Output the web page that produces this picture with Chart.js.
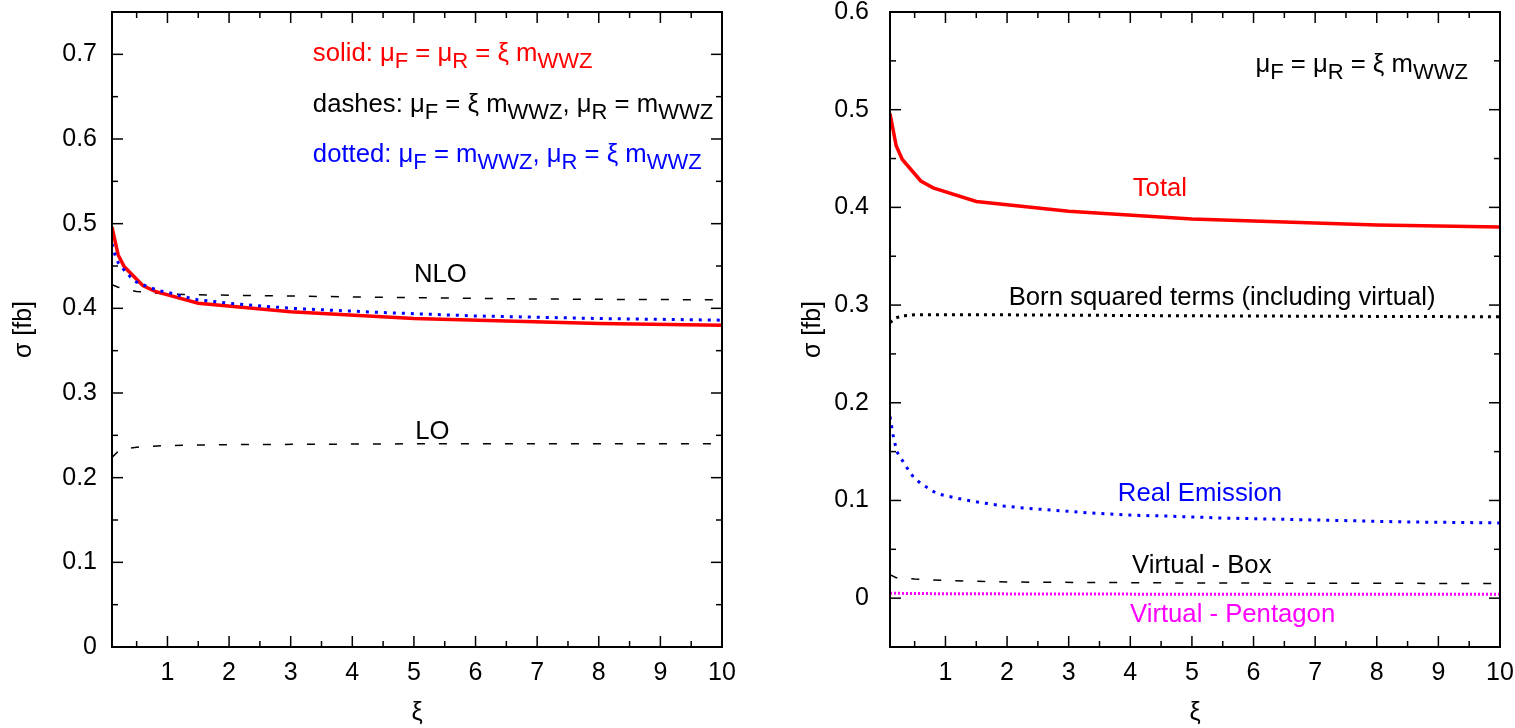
<!DOCTYPE html>
<html>
<head>
<meta charset="utf-8">
<script src="https://cdn.jsdelivr.net/npm/chart.js@4.4.0/dist/chart.umd.min.js"></script>
<style>
    body { margin: 0; background: #fff; }
    canvas.panel { position: absolute; top: 0; }
</style>
</head>
<body>
<canvas id="left" class="panel" width="760" height="728" style="left:0"></canvas>
<canvas id="right" class="panel" width="755" height="728" style="left:760px"></canvas>
<script>
// ---- axes ----
const xiTicks = [1, 2, 3, 4, 5, 6, 7, 8, 9, 10];
const xiMinor = [0.5, 1.5, 2.5, 3.5, 4.5, 5.5, 6.5, 7.5, 8.5, 9.5];
const leftTicks = [0, 0.1, 0.2, 0.3, 0.4, 0.5, 0.6, 0.7];
const leftMinor = [0.05, 0.15, 0.25, 0.35, 0.45, 0.55, 0.65];
const rightTicks = [0, 0.1, 0.2, 0.3, 0.4, 0.5, 0.6];
const rightMinor = [0.05, 0.15, 0.25, 0.35, 0.45, 0.55];

// ---- scale variations (left) ----
const solidXi = [0.1, 0.2, 0.3, 0.6, 0.8, 1.5, 3, 5, 8, 10];
const solidSigma = [0.496, 0.463, 0.449, 0.427, 0.420, 0.406, 0.396, 0.388, 0.382, 0.380];
const dottedXi = [0.1, 0.15, 0.2, 0.3, 0.4, 0.5, 0.7, 0.85, 1, 1.25, 1.5, 2, 3, 4.5, 6, 8, 10];
const dottedSigma = [0.476, 0.463, 0.454, 0.445, 0.437, 0.431, 0.425, 0.421, 0.419, 0.414, 0.410, 0.406, 0.400, 0.395, 0.391, 0.388, 0.386];
const nloDashXi = [0.1, 0.2, 0.3, 0.5, 0.8, 1, 1.5, 2.5, 4.5, 7, 10];
const nloDashSigma = [0.428, 0.425, 0.423, 0.420, 0.418, 0.417, 0.416, 0.415, 0.413, 0.411, 0.410];
const loXi = [0.1, 0.2, 0.3, 0.5, 1, 2, 5, 10];
const loSigma = [0.224, 0.231, 0.234, 0.236, 0.238, 0.239, 0.240, 0.240];

// ---- contributions (right) ----
const totalXi = solidXi;
const totalSigma = solidSigma;
const bornXi = [0.1, 0.2, 0.3, 0.5, 1, 2, 5, 10];
const bornSigma = [0.282, 0.287, 0.289, 0.290, 0.290, 0.290, 0.289, 0.288];
const realXi = [0.1, 0.15, 0.21, 0.31, 0.4, 0.48, 0.59, 0.72, 0.86, 1.02, 1.29, 1.56, 1.94, 2.32, 2.75, 3.29, 4, 4.59, 5.5, 7, 8.5, 10];
const realSigma = [0.186, 0.167, 0.150, 0.140, 0.131, 0.124, 0.118, 0.1125, 0.107, 0.1046, 0.101, 0.098, 0.0944, 0.092, 0.090, 0.0875, 0.085, 0.084, 0.082, 0.080, 0.078, 0.077];
const boxXi = [0.1, 0.2, 0.5, 1, 2, 5, 10];
const boxSigma = [0.024, 0.021, 0.0195, 0.018, 0.0165, 0.0155, 0.015];
const pentXi = [0.1, 1, 5, 10];
const pentSigma = [0.005, 0.0045, 0.004, 0.004];

const FONT = '"Liberation Sans", Arial, Helvetica, sans-serif';
const RED = '#ff0000', BLUE = '#0000ff', MAGENTA = '#ff00ff', BLACK = '#000000';

const pts = (xs, ys) => xs.map((x, i) => ({x, y: ys[i]}));

// split "m_{WWZ}" style markup into [text, isSub] parts
function parseRich(str) {
    const parts = [];
    const re = /_\{([^}]*)\}|_(.)/g;
    let last = 0, m;
    while ((m = re.exec(str))) {
        if (m.index > last) parts.push([str.slice(last, m.index), false]);
        parts.push([m[1] || m[2], true]);
        last = re.lastIndex;
    }
    if (last < str.length) parts.push([str.slice(last), false]);
    return parts;
}

function drawRich(ctx, str, px, py, align, color) {
    const parts = parseRich(str);
    const big = '25.7px ' + FONT, small = '22px ' + FONT;
    let w = 0;
    parts.forEach(([s, sub]) => { ctx.font = sub ? small : big; w += ctx.measureText(s).width; });
    let cx = align === 'center' ? px - w / 2 : px;
    ctx.fillStyle = color;
    ctx.textBaseline = 'alphabetic';
    ctx.textAlign = 'left';
    parts.forEach(([s, sub]) => {
        ctx.font = sub ? small : big;
        ctx.fillText(s, cx, py + (sub ? 7 : 0));
        cx += ctx.measureText(s).width;
    });
}

// box frame with inward ticks on all four sides, plus text notes
const framePlugin = {
    id: 'frame',
    afterDraw(chart, args, opts) {
        const {ctx, chartArea: a, scales: {x, y}} = chart;
        ctx.save();
        ctx.strokeStyle = BLACK;
        const seg = (x1, y1, x2, y2) => { ctx.beginPath(); ctx.moveTo(x1, y1); ctx.lineTo(x2, y2); ctx.stroke(); };
        ctx.lineWidth = 1.5;
        const xTick = (v, len) => { const p = x.getPixelForValue(v); seg(p, a.bottom, p, a.bottom - len); seg(p, a.top, p, a.top + len); };
        const yTick = (v, len) => { const p = y.getPixelForValue(v); seg(a.left, p, a.left + len, p); seg(a.right, p, a.right - len, p); };
        x.ticks.forEach(t => xTick(t.value, 11));
        opts.xMinor.forEach(v => xTick(v, 6));
        y.ticks.forEach(t => yTick(t.value, 11));
        opts.yMinor.forEach(v => yTick(v, 6));
        ctx.lineWidth = 2;
        ctx.strokeRect(a.left, a.top, a.right - a.left, a.bottom - a.top);
        (opts.notes || []).forEach(n => {
            drawRich(ctx, n.text, x.getPixelForValue(n.x), y.getPixelForValue(n.y), n.align, n.color);
        });
        ctx.restore();
    }
};

function makeScales(yMin, yMax, yTicks, yWidth, labelPad, titlePad) {
    return {
        x: {
            type: 'linear', min: 0.1, max: 10,
            afterBuildTicks: s => { s.ticks = xiTicks.map(v => ({value: v})); },
            afterFit: s => { s.height = 81; s.paddingLeft = 0; s.paddingRight = 0; },
            grid: {display: false, drawTicks: false},
            border: {display: false},
            ticks: {color: BLACK, font: {family: FONT, size: 25}, padding: 11, maxRotation: 0, autoSkip: false, callback: v => String(v)},
            title: {display: true, text: 'ξ', color: BLACK, font: {family: FONT, size: 25}, padding: {top: 0, bottom: 0}}
        },
        y: {
            type: 'linear', min: yMin, max: yMax,
            afterBuildTicks: s => { s.ticks = yTicks.map(v => ({value: v})); },
            afterFit: s => { s.width = yWidth; s.paddingTop = 0; s.paddingBottom = 0; },
            grid: {display: false, drawTicks: false},
            border: {display: false},
            ticks: {color: BLACK, font: {family: FONT, size: 25}, padding: labelPad, autoSkip: false, callback: v => String(v)},
            title: {display: true, text: 'σ [fb]', color: BLACK, font: {family: FONT, size: 25}, padding: {top: titlePad, bottom: 0}}
        }
    };
}

const line = (data, color, width, dash) => ({
    data, borderColor: color, borderWidth: width, borderDash: dash,
    pointRadius: 0, tension: 0, fill: false
});

new Chart(document.getElementById('left'), {
    type: 'line',
    data: {
        datasets: [
            line(pts(dottedXi, dottedSigma), BLUE, 3, [3, 6]),
            line(pts(solidXi, solidSigma), RED, 3.5, []),
            line(pts(nloDashXi, nloDashSigma), BLACK, 1.5, [8, 14]),
            line(pts(loXi, loSigma), BLACK, 1.5, [8, 14])
        ]
    },
    options: {
        responsive: false, animation: false,
        layout: {padding: {top: 12, right: 38, left: 0, bottom: 0}},
        scales: makeScales(0, 0.75, leftTicks, 112, 15, 9),
        plugins: {
            legend: {display: false}, tooltip: {enabled: false},
            frame: {
                xMinor: xiMinor, yMinor: leftMinor,
                notes: [
                    {text: 'solid: μ_F = μ_R = ξ m_{WWZ}', x: 3.36, y: 0.692, align: 'left', color: RED},
                    {text: 'dashes: μ_F = ξ m_{WWZ}, μ_R = m_{WWZ}', x: 3.36, y: 0.632, align: 'left', color: BLACK},
                    {text: 'dotted: μ_F = m_{WWZ}, μ_R = ξ m_{WWZ}', x: 3.36, y: 0.573, align: 'left', color: BLUE},
                    {text: 'NLO', x: 5.43, y: 0.431, align: 'center', color: BLACK},
                    {text: 'LO', x: 5.30, y: 0.246, align: 'center', color: BLACK}
                ]
            }
        }
    },
    plugins: [framePlugin]
});

new Chart(document.getElementById('right'), {
    type: 'line',
    data: {
        datasets: [
            line(pts(totalXi, totalSigma), RED, 3.5, []),
            line(pts(bornXi, bornSigma), BLACK, 3, [3, 5]),
            line(pts(realXi, realSigma), BLUE, 3, [3, 6]),
            line(pts(boxXi, boxSigma), BLACK, 1.5, [8, 14]),
            line(pts(pentXi, pentSigma), MAGENTA, 3, [2, 2])
        ]
    },
    options: {
        responsive: false, animation: false,
        layout: {padding: {top: 12, right: 15, left: 0, bottom: 0}},
        scales: makeScales(-0.05, 0.6, rightTicks, 130, 21, 38),
        plugins: {
            legend: {display: false}, tooltip: {enabled: false},
            frame: {
                xMinor: xiMinor, yMinor: rightMinor,
                notes: [
                    {text: 'μ_F = μ_R = ξ m_{WWZ}', x: 6.03, y: 0.539, align: 'left', color: BLACK},
                    {text: 'Total', x: 4.48, y: 0.412, align: 'center', color: RED},
                    {text: 'Born squared terms (including virtual)', x: 5.49, y: 0.300, align: 'center', color: BLACK},
                    {text: 'Real Emission', x: 5.13, y: 0.0995, align: 'center', color: BLUE},
                    {text: 'Virtual - Box', x: 5.16, y: 0.026, align: 'center', color: BLACK},
                    {text: 'Virtual - Pentagon', x: 5.66, y: -0.024, align: 'center', color: MAGENTA}
                ]
            }
        }
    },
    plugins: [framePlugin]
});
</script>
</body>
</html>
